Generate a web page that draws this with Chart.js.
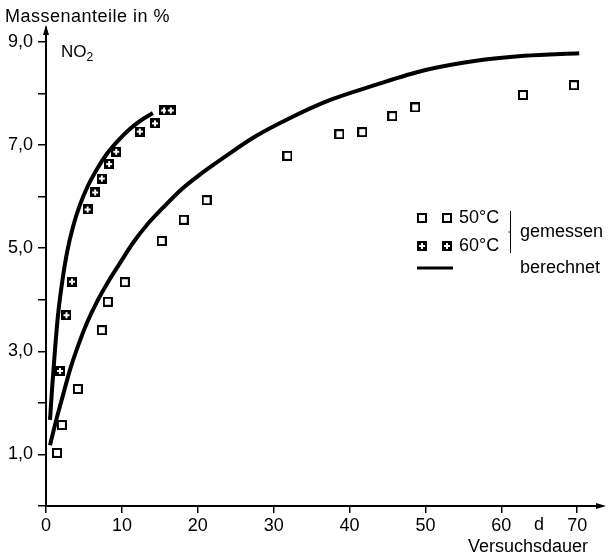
<!DOCTYPE html>
<html>
<head>
<meta charset="utf-8">
<script src="https://cdn.jsdelivr.net/npm/chart.js@4.4.0/dist/chart.umd.min.js"></script>
<style>
  html, body { margin: 0; padding: 0; background: #fff; }
  canvas { display: block; }
</style>
</head>
<body>
<canvas id="chart" width="610" height="558"></canvas>
<script>
const FONT = "'Liberation Sans', Arial, Helvetica, sans-serif";

// measured NO2 content, 50 °C
const days50 = [1.45, 2.1, 4.2, 7.36, 8.15, 10.39, 15.25, 18.15, 21.17, 31.82, 38.66, 41.68, 45.63, 48.65, 62.85, 69.56];
const mass50 = [1.03, 1.57, 2.27, 3.41, 3.96, 4.34, 5.14, 5.55, 5.93, 6.79, 7.21, 7.25, 7.56, 7.73, 7.97, 8.16];

// measured NO2 content, 60 °C
const days60 = [1.84, 2.7, 3.42, 5.48, 6.48, 7.36, 8.32, 9.25, 12.36, 14.37, 15.56, 16.44];
const mass60 = [2.62, 3.7, 4.35, 5.75, 6.08, 6.35, 6.63, 6.87, 7.26, 7.42, 7.67, 7.67];

// calculated curve, 50 °C
const calcDays50 = [0.53, 1.32, 2.24, 3.16, 4.21, 5.39, 6.71, 8.16, 9.74, 11.45, 13.29, 15.39, 17.76, 20.39, 23.55, 27.5, 32.1, 37.37, 43.29, 49.87, 56.45, 63.03, 70.26];
const calcMass50 = [1.18, 1.65, 2.15, 2.64, 3.1, 3.55, 3.96, 4.34, 4.71, 5.1, 5.45, 5.78, 6.13, 6.44, 6.77, 7.16, 7.52, 7.87, 8.16, 8.45, 8.63, 8.73, 8.78];

// calculated curve, 60 °C
const calcDays60 = [0.53, 0.79, 1.18, 1.58, 2.11, 2.76, 3.55, 4.47, 5.53, 6.71, 8.03, 9.47, 11.05, 12.63, 14.08];
const calcMass60 = [1.67, 2.25, 3.02, 3.7, 4.32, 4.91, 5.41, 5.84, 6.21, 6.53, 6.83, 7.08, 7.31, 7.49, 7.62];

const xTickValues = [0, 10, 20, 30, 40, 50, 60, 70];
const xTickLabels = ['0', '10', '20', '30', '40', '50', '60', '70'];
const yTickValues = [1, 3, 5, 7, 9];
const yTickLabels = ['1,0', '3,0', '5,0', '7,0', '9,0'];

const toPoints = (xs, ys) => xs.map((x, i) => ({ x, y: ys[i] }));

// ─── Markers ───────────────────────────────────────────

function squareMarker() {
  const c = document.createElement('canvas');
  c.width = c.height = 10;
  const g = c.getContext('2d');
  g.fillStyle = '#fff';
  g.fillRect(0, 0, 10, 10);
  g.strokeStyle = '#000';
  g.lineWidth = 2;
  g.strokeRect(1, 1, 8, 8);
  return c;
}

function plusMarker() {
  const c = document.createElement('canvas');
  c.width = c.height = 10;
  const g = c.getContext('2d');
  g.fillStyle = '#000';
  g.fillRect(0, 0, 10, 10);
  g.fillStyle = '#fff';
  g.fillRect(4, 2, 2, 6);
  g.fillRect(2, 4, 6, 2);
  return c;
}

const markSquare = squareMarker();
const markPlus   = plusMarker();

// ─── Extras: arrows, captions, legend ──────────────────

const extras = {
  id: 'extras',
  afterDraw(chart) {
    const { ctx, chartArea: a } = chart;
    ctx.save();
    ctx.fillStyle = '#000';
    ctx.strokeStyle = '#000';

    // axis extensions + arrowheads
    ctx.lineWidth = 2;
    ctx.beginPath();
    ctx.moveTo(a.left, a.top);
    ctx.lineTo(a.left, a.top - 2);
    ctx.moveTo(a.right, a.bottom);
    ctx.lineTo(a.right + 2, a.bottom);
    ctx.stroke();

    ctx.beginPath();
    ctx.moveTo(a.left, a.top - 4);
    ctx.lineTo(a.left - 3, a.top + 6);
    ctx.lineTo(a.left + 3, a.top + 6);
    ctx.closePath();
    ctx.fill();

    ctx.beginPath();
    ctx.moveTo(a.right + 6, a.bottom);
    ctx.lineTo(a.right - 4, a.bottom - 3);
    ctx.lineTo(a.right - 4, a.bottom + 3);
    ctx.closePath();
    ctx.fill();

    ctx.textBaseline = 'middle';
    ctx.textAlign = 'left';

    ctx.font = `18px ${FONT}`;
    ctx.letterSpacing = '0.5px';
    ctx.fillText('Massenanteile in %', 5, 17);
    ctx.letterSpacing = '0px';

    ctx.font = `17px ${FONT}`;
    ctx.fillText('NO', 61, 52);
    const w = ctx.measureText('NO').width;
    ctx.font = `12px ${FONT}`;
    ctx.fillText('2', 61 + w, 58);

    ctx.font = `18px ${FONT}`;
    ctx.textAlign = 'center';
    ctx.fillText('d', 539, 525);
    ctx.textAlign = 'right';
    ctx.fillText('Versuchsdauer', 588, 547);

    // legend
    ctx.drawImage(markSquare, 417, 213);
    ctx.drawImage(markSquare, 442, 213);
    ctx.drawImage(markPlus, 417, 241);
    ctx.drawImage(markPlus, 442, 241);
    ctx.textAlign = 'left';
    ctx.fillText('50°C', 459, 218);
    ctx.fillText('60°C', 459, 246);
    ctx.fillText('gemessen', 520, 232);
    ctx.fillText('berechnet', 520, 268);

    ctx.lineWidth = 1;
    ctx.beginPath();
    ctx.moveTo(510.5, 211);
    ctx.lineTo(510.5, 253);
    ctx.moveTo(510.5, 232);
    ctx.lineTo(508.5, 232);
    ctx.stroke();

    ctx.lineWidth = 3;
    ctx.beginPath();
    ctx.moveTo(417, 268);
    ctx.lineTo(453, 268);
    ctx.stroke();

    ctx.restore();
  },
};

// ─── Chart ─────────────────────────────────────────────

const tickFont = { size: 18, family: FONT };

const calcLine = {
  showLine: true,
  borderColor: '#000',
  borderWidth: 4,
  pointRadius: 0,
  cubicInterpolationMode: 'monotone',
  order: 1,
};

new Chart(document.getElementById('chart'), {
  type: 'scatter',
  data: {
    datasets: [
      { label: '50°C gemessen', data: toPoints(days50, mass50), pointStyle: markSquare, order: 0 },
      { label: '60°C gemessen', data: toPoints(days60, mass60), pointStyle: markPlus, order: 0 },
      { label: '50°C berechnet', data: toPoints(calcDays50, calcMass50), ...calcLine },
      { label: '60°C berechnet', data: toPoints(calcDays60, calcMass60), ...calcLine },
    ],
  },
  options: {
    responsive: false,
    animation: false,
    devicePixelRatio: 1,
    layout: { padding: { top: 29, right: 10, left: 0, bottom: 0 } },
    plugins: { legend: { display: false }, tooltip: { enabled: false } },
    scales: {
      x: {
        type: 'linear',
        min: 0,
        max: 73,
        afterFit: s => { s.height = 52; },
        border: { color: '#000', width: 2 },
        grid: { drawOnChartArea: false, color: '#000', lineWidth: 1.5, tickLength: 7 },
        ticks: {
          stepSize: 10,
          includeBounds: false,
          autoSkip: false,
          maxRotation: 0,
          color: '#000',
          padding: 2,
          font: tickFont,
          callback: v => {
            const i = xTickValues.indexOf(v);
            return i >= 0 ? xTickLabels[i] : '';
          },
        },
      },
      y: {
        type: 'linear',
        min: 0,
        max: 9.25,
        afterFit: s => { s.width = 46; },
        border: { color: '#000', width: 2 },
        grid: { drawOnChartArea: false, color: '#000', lineWidth: 1.5, tickLength: 8 },
        ticks: {
          stepSize: 1,
          includeBounds: false,
          autoSkip: false,
          color: '#000',
          padding: 5,
          font: tickFont,
          callback: v => {
            const i = yTickValues.indexOf(v);
            return i >= 0 ? yTickLabels[i] : '';
          },
        },
      },
    },
  },
  plugins: [extras],
});
</script>
</body>
</html>
